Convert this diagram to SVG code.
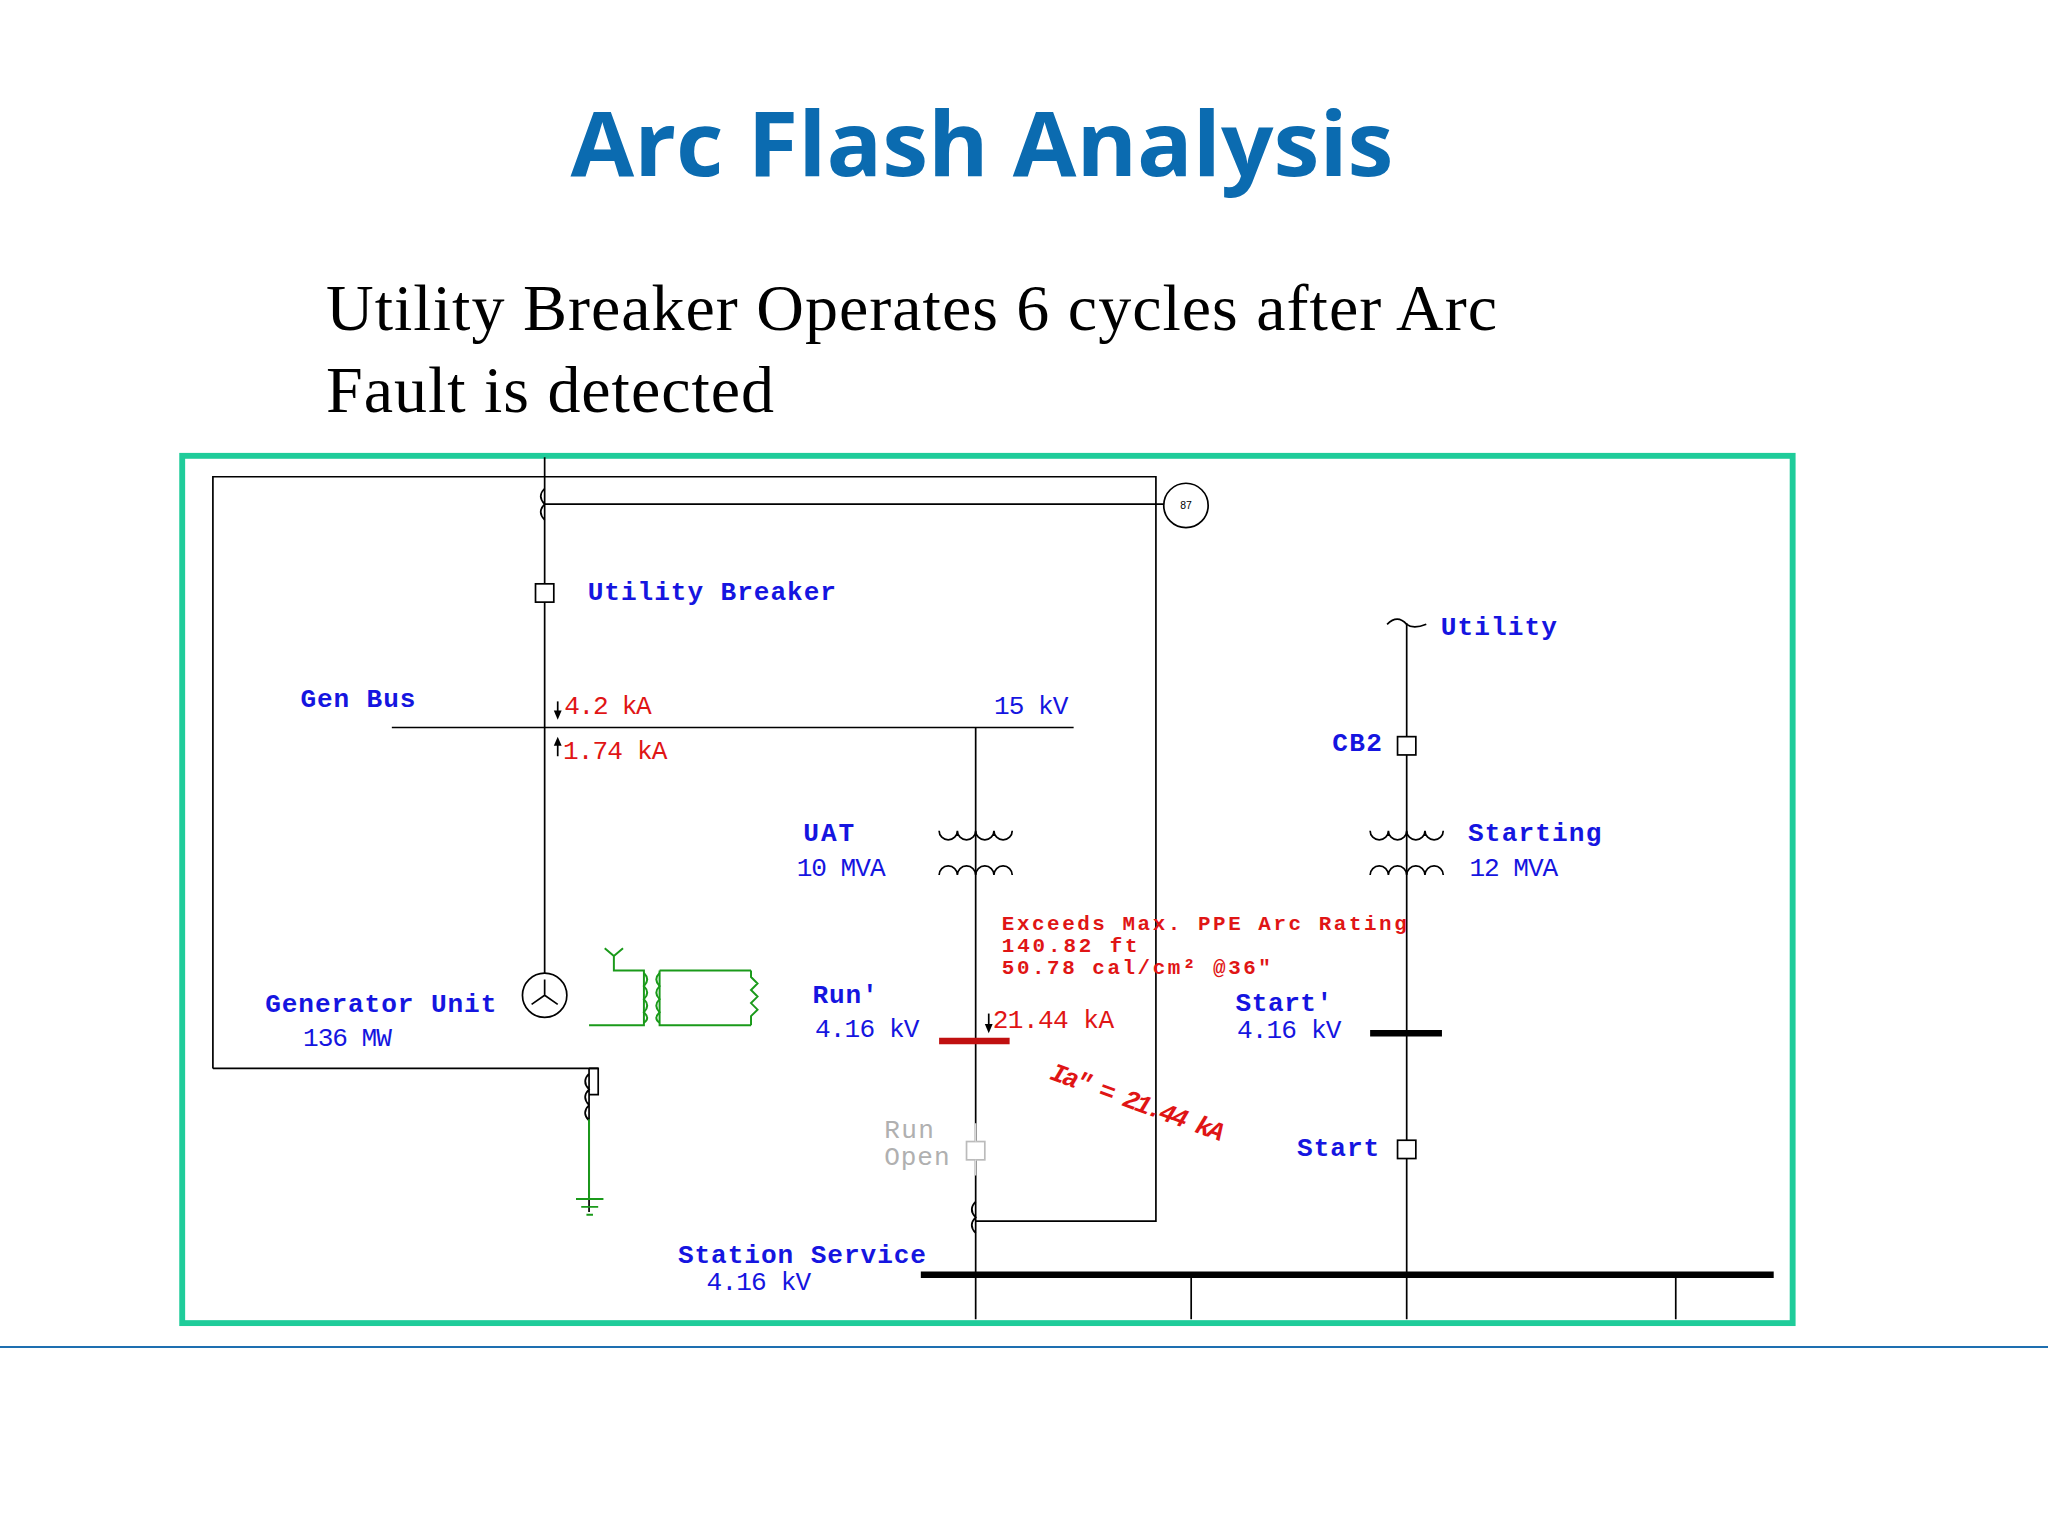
<svg xmlns="http://www.w3.org/2000/svg" width="2048" height="1534" viewBox="0 0 2048 1534">
<style>
.w{fill:none;stroke:#000;stroke-width:1.3}
.g{fill:none;stroke:#1a9a1a;stroke-width:1.5}
.b{font-family:"Liberation Mono",monospace;font-weight:bold;font-size:20px;fill:#1515e0}
.n{font-family:"Liberation Mono",monospace;font-size:20px;fill:#1515e0}
.r{font-family:"Liberation Mono",monospace;font-size:20px;fill:#e01515}
.rb{font-family:"Liberation Mono",monospace;font-weight:bold;font-size:16px;fill:#e01515}
.gr{font-family:"Liberation Mono",monospace;font-size:20px;fill:#b0b0b0}
.ar{fill:#000}
</style>
<rect width="2048" height="1534" fill="#fff"/>
<text x="982" y="176" text-anchor="middle" font-family="Open Sans,DejaVu Sans,sans-serif" font-weight="bold" font-size="90" fill="#0b6bb0" textLength="823" lengthAdjust="spacingAndGlyphs">Arc Flash Analysis</text>
<text x="326" y="330" font-family="Liberation Serif,serif" font-size="66" fill="#000" textLength="1171">Utility Breaker Operates 6 cycles after Arc</text>
<text x="326" y="412" font-family="Liberation Serif,serif" font-size="66" fill="#000" textLength="448">Fault is detected</text>
<line x1="0" y1="1347" x2="2048" y2="1347" stroke="#1e6fb0" stroke-width="2"/>
<g transform="scale(1.30612)">
<rect x="139.5" y="349" width="1233" height="664" fill="none" stroke="#1fcc9a" stroke-width="4.5"/>
<g id="connectors">
<path class="w" d="M417,350 V745 M163,818 V365 H885 V935 H747 M163,818 H458 M417,386 H891"/>
<path class="w" d="M300,557 H822 M747,557 V1010 M1077,477 V1010 M912,976 V1010 M1283,976 V1010"/>
<path class="w" d="M451,818 H458 V838 H451"/>
</g>
<g id="ct1"><path class="w" d="M417,374 q-6,6 0,12 q-6,6 0,12"/></g>
<g id="utilbrk"><rect x="410" y="447" width="14" height="14" fill="#fff" stroke="#000" stroke-width="1.3"/></g>
<g id="relay"><circle cx="908" cy="387" r="17" fill="#fff" stroke="#000" stroke-width="1.3"/><text x="908" y="390" font-family="Liberation Sans,sans-serif" font-size="8" text-anchor="middle">87</text></g>
<g id="genbus"><text x="230" y="541" class="b" textLength="88">Gen Bus</text>
<text x="432" y="547" class="r" textLength="67">4.2 kA</text><text x="761" y="547" class="n" textLength="57">15 kV</text>
<text x="431" y="581" class="r" textLength="80">1.74 kA</text>
<path class="w" d="M427,537 V546"/><path class="ar" d="M424,544 L430,544 L427,551z"/>
<path class="w" d="M427,570 V579"/><path class="ar" d="M424,571 L430,571 L427,564z"/></g>
<text x="450" y="459" class="b" textLength="190">Utility Breaker</text>
<g id="uat"><path class="w" d="M719,636 a7,7 0 0 0 14,0 a7,7 0 0 0 14,0 a7,7 0 0 0 14,0 a7,7 0 0 0 14,0 M719,670 a7,7 0 0 1 14,0 a7,7 0 0 1 14,0 a7,7 0 0 1 14,0 a7,7 0 0 1 14,0"/>
<text x="615" y="644" class="b" textLength="39">UAT</text><text x="610" y="671" class="n" textLength="68">10 MVA</text></g>
<g id="gen"><circle cx="417" cy="762" r="17" fill="#fff" stroke="#000" stroke-width="1.3"/><path class="w" d="M417,762 V750 M417,762 L407,769 M417,762 L427,769"/>
<text x="203" y="775" class="b" textLength="177">Generator Unit</text><text x="232" y="801" class="n" textLength="68">136 MW</text></g>
<g id="ct2"><path class="w" d="M451,818 V928 M451,822 q-6,6 0,12 q-6,6 0,12 q-6,6 0,12"/></g>
<g id="grounding"><path class="g" d="M451,857 V918 M441,918 H462 M445,924 H458 M449,930 H454 M451,785 H493 V743 H470 V732 M470,732 L463,726 M470,732 L477,726 M505,743 H575 M575,785 H505 V743"/>
<path class="g" d="M493,745 q5,5 0,10 q5,5 0,10 q5,5 0,10 q5,5 0,8 M505,745 q-5,5 0,10 q-5,5 0,10 q-5,5 0,10 q-5,5 0,8 M575,743 v5 l5,5 l-5,5 l5,5 l-5,5 l5,5 l-5,5 v7"/></g>
<g id="runbus"><line x1="719" y1="797" x2="773" y2="797" stroke="#c01010" stroke-width="5"/>
<text x="622" y="768" class="b" textLength="50">Run'</text><text x="624" y="794" class="n" textLength="80">4.16 kV</text>
<text x="760" y="787" class="r" textLength="93">21.44 kA</text>
<path class="w" d="M757,776 V786"/><path class="ar" d="M754,784 L760,784 L757,791z"/></g>
<g id="arc"><text x="767" y="712" class="rb" textLength="310">Exceeds Max. PPE Arc Rating</text>
<text x="767" y="729" class="rb" textLength="104">140.82 ft</text>
<text x="767" y="746" class="rb" textLength="206">50.78 cal/cm² @36"</text>
<text class="r" font-weight="bold" font-style="italic" transform="translate(803,826) rotate(20)" font-size="16" textLength="140">Ia" = 21.44 kA</text></g>
<g id="runopen"><rect x="740" y="874" width="14" height="14" fill="#fff" stroke="#bbb" stroke-width="1.3"/><line x1="747" y1="860" x2="747" y2="874" stroke="#ddd"/><line x1="747" y1="888" x2="747" y2="900" stroke="#ddd"/>
<text x="677" y="871" class="gr" textLength="38">Run</text><text x="677" y="892" class="gr" textLength="50">Open</text></g>
<g id="ct3"><path class="w" d="M747,920 q-6,6 0,12 q-6,6 0,12"/></g>
<g id="ssbus"><line x1="705" y1="976" x2="1358" y2="976" stroke="#000" stroke-width="5"/>
<text x="519" y="967" class="b" textLength="190">Station Service</text><text x="541" y="988" class="n" textLength="80">4.16 kV</text></g>
<g id="utility"><path class="w" d="M1062,478 q8,-8 15,0 q5,4 15,0"/><text x="1103" y="486" class="b" textLength="89">Utility</text></g>
<g id="cb2"><rect x="1070" y="564" width="14" height="14" fill="#fff" stroke="#000" stroke-width="1.3"/><text x="1020" y="575" class="b" textLength="38">CB2</text></g>
<g id="starting"><path class="w" d="M1049,636 a7,7 0 0 0 14,0 a7,7 0 0 0 14,0 a7,7 0 0 0 14,0 a7,7 0 0 0 14,0 M1049,670 a7,7 0 0 1 14,0 a7,7 0 0 1 14,0 a7,7 0 0 1 14,0 a7,7 0 0 1 14,0"/>
<text x="1124" y="644" class="b" textLength="102">Starting</text><text x="1125" y="671" class="n" textLength="68">12 MVA</text></g>
<g id="startbus"><line x1="1049" y1="791" x2="1104" y2="791" stroke="#000" stroke-width="5"/><text x="946" y="774" class="b" textLength="74">Start'</text><text x="947" y="795" class="n" textLength="80">4.16 kV</text></g>
<g id="start"><rect x="1070" y="873" width="14" height="14" fill="#fff" stroke="#000" stroke-width="1.3"/><text x="993" y="885" class="b" textLength="63">Start</text></g>
</g>
</svg>
